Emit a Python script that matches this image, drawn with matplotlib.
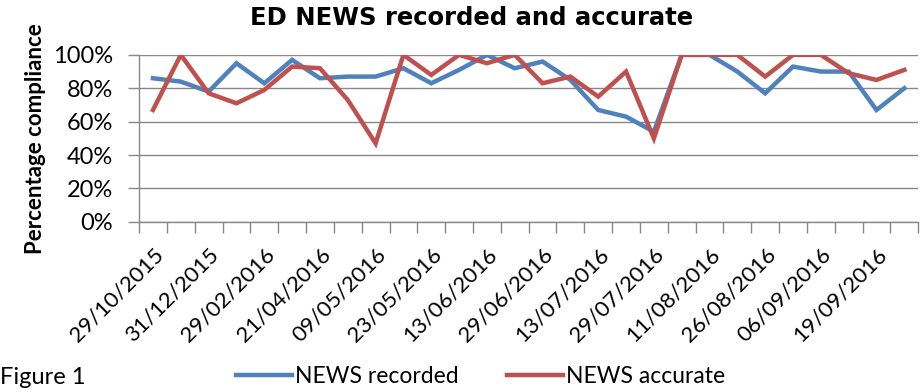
import numpy as np
import matplotlib
matplotlib.use("Agg")
import matplotlib.pyplot as plt
from matplotlib.ticker import PercentFormatter, FixedLocator, NullFormatter

# Weekly audit of NEWS scores in ED (percent compliance)
n_points = 28
date_labels = ['29/10/2015', '31/12/2015', '29/02/2016', '21/04/2016', '09/05/2016',
               '23/05/2016', '13/06/2016', '29/06/2016', '13/07/2016', '29/07/2016',
               '11/08/2016', '26/08/2016', '06/09/2016', '19/09/2016']
news_recorded = [86, 84, 78, 95, 83, 97, 86, 87, 87, 92, 83, 91, 100, 92,
                 96, 85, 67, 63, 54, 100, 100, 90, 77, 93, 90, 90, 67, 80]
news_accurate = [67, 100, 77, 71, 79, 93, 92, 73, 47, 100, 88, 100, 95, 100,
                 83, 87, 75, 90, 50, 100, 100, 100, 87, 100, 100, 89, 85, 91]

blue = '#4f81bd'
red = '#c0504d'
grid_col = '#888888'
body_font = 'Lato'

fig = plt.figure(figsize=(9.21, 3.92), dpi=100)
ax = fig.add_axes([0.151, 0.434, 0.846, 0.426])

x = np.arange(n_points)
l1, = ax.plot(x, news_recorded, color=blue, lw=3.2, solid_joinstyle='miter', label='NEWS recorded')
l2, = ax.plot(x, news_accurate, color=red, lw=3.2, solid_joinstyle='miter', label='NEWS accurate')

ax.set_xlim(-0.5, n_points - 0.5)
ax.set_ylim(0, 100)
ax.set_yticks(np.arange(0, 101, 20))
ax.yaxis.set_major_formatter(PercentFormatter(decimals=0))
ax.grid(axis='y', color=grid_col, lw=1)
ax.set_axisbelow(True)

# category boundaries as ticks, every other category labelled
ax.xaxis.set_major_locator(FixedLocator(np.arange(-0.5, n_points, 1)))
ax.xaxis.set_major_formatter(NullFormatter())
ax.xaxis.set_minor_locator(FixedLocator(np.arange(0, n_points, 2)))
ax.set_xticklabels(date_labels, minor=True, rotation=45, ha='right', rotation_mode='anchor',
                   fontsize=16, family=body_font)
ax.tick_params(axis='x', which='major', direction='out', length=8, color=grid_col, width=1)
ax.tick_params(axis='x', which='minor', length=0, pad=16)
ax.tick_params(axis='y', direction='out', length=8, color=grid_col, width=1, labelsize=17, pad=11)
for lab in ax.get_yticklabels():
    lab.set_family(body_font)

for s in ['top', 'right']:
    ax.spines[s].set_visible(False)
for s in ['left', 'bottom']:
    ax.spines[s].set_color(grid_col)
    ax.spines[s].set_linewidth(1)

fig.text(0.512, 0.953, 'ED NEWS recorded and accurate', ha='center', va='center',
         fontsize=17.5, fontweight='bold', family='DejaVu Sans')
ax.set_ylabel('Percentage compliance', fontsize=16, fontweight='bold', family=body_font)
ax.yaxis.set_label_coords(-0.12, 0.5)

fig.legend(handles=[l1, l2], loc='center', bbox_to_anchor=(0.522, 0.04), ncol=2, frameon=False,
           prop={'family': body_font, 'size': 16.5}, handlelength=2.45, handletextpad=0.13,
           columnspacing=2.1)
fig.text(0.0, 0.036, 'Figure 1', ha='left', va='center', fontsize=17, family=body_font)

fig.savefig('out.png', dpi=100)
